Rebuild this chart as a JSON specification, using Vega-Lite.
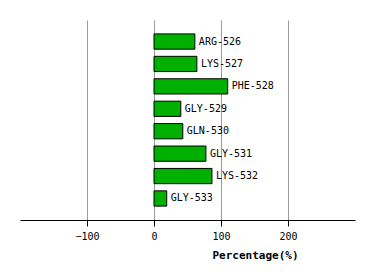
{
  "$schema": "https://vega.github.io/schema/vega-lite/v6.json",
  "width": 335,
  "height": 200,
  "autosize": "none",
  "padding": {"left": 20, "top": 20, "right": 19, "bottom": 60},
  "background": "white",
  "config": {"view": {"stroke": null}},
  "data": {
    "values": [
      {"residue": "ARG-526", "pct": 61},
      {"residue": "LYS-527", "pct": 64},
      {"residue": "PHE-528", "pct": 110},
      {"residue": "GLY-529", "pct": 40},
      {"residue": "GLN-530", "pct": 43},
      {"residue": "GLY-531", "pct": 77.5},
      {"residue": "LYS-532", "pct": 86.5},
      {"residue": "GLY-533", "pct": 19}
    ]
  },
  "encoding": {
    "y": {
      "field": "residue",
      "type": "nominal",
      "sort": null,
      "scale": {"paddingInner": 0.32, "paddingOuter": 0.62},
      "axis": null
    },
    "x": {
      "field": "pct",
      "type": "quantitative",
      "scale": {"domain": [-200, 300], "nice": false, "zero": false},
      "axis": {
        "values": [-100, 0, 100, 200],
        "title": "Percentage(%)",
        "titleFont": "DejaVu Sans Mono",
        "titleFontSize": 11,
        "titleFontWeight": "bold",
        "titleColor": "black",
        "titleX": 235,
        "titleY": 29,
        "titleAlign": "center",
        "labelFont": "DejaVu Sans Mono",
        "labelFontSize": 10,
        "labelColor": "black",
        "labelPadding": 5,
        "tickSize": 6,
        "tickColor": "black",
        "domainColor": "black",
        "grid": true,
        "gridColor": "#999999",
        "gridWidth": 1
      }
    }
  },
  "layer": [
    {
      "mark": {"type": "bar", "fill": "#00b000", "stroke": "black", "strokeWidth": 1},
      "encoding": {"x2": {"datum": 0}}
    },
    {
      "mark": {"type": "text", "align": "left", "baseline": "middle", "dx": 4, "font": "DejaVu Sans Mono", "fontSize": 10, "color": "black"},
      "encoding": {"text": {"field": "residue"}}
    }
  ]
}
